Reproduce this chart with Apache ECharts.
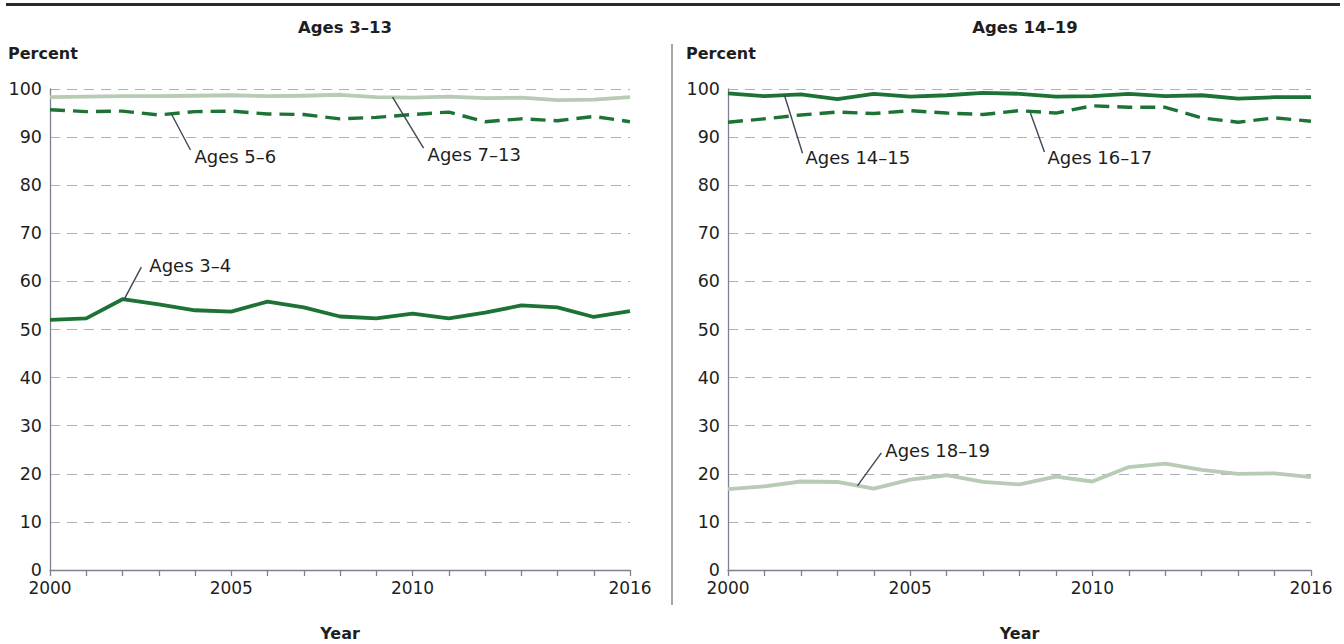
<!DOCTYPE html>
<html>
<head>
<meta charset="utf-8">
<script src="https://cdn.jsdelivr.net/npm/echarts@6/dist/echarts.min.js"></script>
<style>
html,body{margin:0;padding:0;background:#fff;}
#c{width:1344px;height:644px;}
</style>
</head>
<body>
<div id="c"></div>
<script>
// ---- data ----
const years = [2000,2001,2002,2003,2004,2005,2006,2007,2008,2009,2010,2011,2012,2013,2014,2015,2016];
const ages3to4   = [52.0,52.3,56.3,55.2,54.0,53.7,55.8,54.6,52.7,52.3,53.3,52.3,53.5,55.0,54.6,52.6,53.8];
const ages5to6   = [95.7,95.3,95.4,94.6,95.3,95.4,94.8,94.7,93.8,94.1,94.7,95.2,93.2,93.8,93.4,94.3,93.2];
const ages7to13  = [98.3,98.4,98.5,98.5,98.6,98.7,98.5,98.6,98.8,98.3,98.2,98.4,98.1,98.2,97.7,97.8,98.3];
const ages14to15 = [99.1,98.5,98.9,97.9,99.0,98.4,98.7,99.2,99.0,98.4,98.5,99.0,98.5,98.7,98.0,98.3,98.3];
const ages16to17 = [93.1,93.8,94.6,95.2,94.9,95.5,95.0,94.7,95.5,95.0,96.5,96.2,96.2,94.0,93.1,94.0,93.3];
const ages18to19 = [16.8,17.4,18.4,18.3,16.9,18.8,19.7,18.3,17.8,19.4,18.4,21.4,22.1,20.8,20.0,20.1,19.3];
const xTickLabels = [2000, 2005, 2010, 2016];
const yTicks = [0,10,20,30,40,50,60,70,80,90,100];
const panelTitles = ['Ages 3–13', 'Ages 14–19'];

const DARK = '#1d7236';
const LIGHT = '#b8cbb4';
const FONT = '"DejaVu Sans", "Liberation Sans", sans-serif';
const TXT = '#1e1e1e';

function pairs(vals){ return years.map((y,i)=>[y, vals[i]]); }

function xAxisCfg(gi){
  return {
    gridIndex: gi, type:'value', min: years[0], max: years[years.length-1], interval:1,
    name:'Year', nameLocation:'middle', nameGap:55,
    nameTextStyle:{fontFamily:FONT, fontWeight:'bold', fontSize:16, color:TXT},
    axisLine:{show:true, lineStyle:{color:'#7d8190', width:1.3}},
    axisTick:{show:true, length:6, lineStyle:{color:'#7d8190', width:1.3}},
    splitLine:{show:false},
    axisLabel:{fontFamily:FONT, fontSize:17, color:TXT, margin:10, lineHeight:16,
      showMinLabel:true, showMaxLabel:true, hideOverlap:false,
      formatter: v => xTickLabels.indexOf(v) >= 0 ? String(v) : ''}
  };
}
function yAxisCfg(gi){
  return {
    gridIndex: gi, type:'value', min: yTicks[0], max: yTicks[yTicks.length-1], interval:10,
    axisLine:{show:true, lineStyle:{color:'#7d8190', width:1.3}},
    axisTick:{show:false},
    splitLine:{show:true, lineStyle:{color:'#aeb0b8', width:1, type:[10,7]}},
    axisLabel:{fontFamily:FONT, fontSize:17.5, color:TXT, margin:8, lineHeight:14, padding:[0,0,6,0]}
  };
}
function lineSeries(gi, vals, color, dashed, z){
  return {
    type:'line', xAxisIndex:gi, yAxisIndex:gi, data:pairs(vals),
    symbol:'none', smooth:false, z: z,
    lineStyle:{color:color, width: dashed ? 3.4 : 3.8, type: dashed ? [15,8] : 'solid', cap:'butt', join:'round'}
  };
}

const chart = echarts.init(document.getElementById('c'), null, {renderer:'svg'});
chart.setOption({
  animation:false,
  backgroundColor:'#fff',
  title:[
    {text:panelTitles[0], left:340, top:14, textAlign:'center',
     textStyle:{fontFamily:FONT, fontWeight:'bold', fontSize:16.5, color:TXT}},
    {text:panelTitles[1], left:1020, top:14, textAlign:'center',
     textStyle:{fontFamily:FONT, fontWeight:'bold', fontSize:16.5, color:TXT}},
    {text:'Percent', left:3, top:40,
     textStyle:{fontFamily:FONT, fontWeight:'bold', fontSize:16, color:TXT}},
    {text:'Percent', left:681, top:40,
     textStyle:{fontFamily:FONT, fontWeight:'bold', fontSize:16, color:TXT}}
  ],
  grid:[
    {left:50, right:714, top:89, bottom:74, outerBoundsMode:'none', containLabel:false},
    {left:728, right:33, top:89, bottom:74, outerBoundsMode:'none', containLabel:false}
  ],
  xAxis:[xAxisCfg(0), xAxisCfg(1)],
  yAxis:[yAxisCfg(0), yAxisCfg(1)],
  series:[
    lineSeries(0, ages7to13, LIGHT, false, 3),
    lineSeries(0, ages5to6, DARK, true, 4),
    lineSeries(0, ages3to4, DARK, false, 4),
    lineSeries(1, ages14to15, DARK, false, 4),
    lineSeries(1, ages16to17, DARK, true, 4),
    lineSeries(1, ages18to19, LIGHT, false, 3)
  ]
});

// annotation labels with leader lines anchored on data coordinates
const notes = [
  {text:'Ages 3–4',   g:0, at:[2002.05, 56.3], dx:17, dy:-32, tx:8, ty:-2},
  {text:'Ages 5–6',   g:0, at:[2003.35, 94.8], dx:19, dy:36,  tx:4, ty:6},
  {text:'Ages 7–13',  g:0, at:[2009.45, 98.3], dx:31, dy:51,  tx:4, ty:6},
  {text:'Ages 14–15', g:1, at:[2001.55, 98.7], dx:18, dy:58,  tx:3, ty:4},
  {text:'Ages 16–17', g:1, at:[2008.3, 95.0],  dx:14, dy:39,  tx:3, ty:5},
  {text:'Ages 18–19', g:1, at:[2003.55, 17.5], dx:24, dy:-33, tx:4, ty:-2}
];
const els = [];
notes.forEach(n => {
  const p = chart.convertToPixel({gridIndex:n.g}, n.at);
  const ex = p[0] + n.dx, ey = p[1] + n.dy;
  els.push({type:'line', silent:true, z:10,
    shape:{x1:p[0], y1:p[1], x2:ex, y2:ey},
    style:{stroke:'#3f4656', lineWidth:1.4}});
  els.push({type:'text', silent:true, z:10,
    style:{text:n.text, x:ex + n.tx, y:ey + n.ty, fill:TXT,
      font:'18px ' + FONT, verticalAlign:'middle', align:'left'}});
});
// top rule and panel separator
els.push({type:'line', silent:true, shape:{x1:6, y1:4.5, x2:1340, y2:4.5},
  style:{stroke:'#2a2a2a', lineWidth:3}});
els.push({type:'line', silent:true, shape:{x1:672, y1:44, x2:672, y2:605},
  style:{stroke:'#8a8a8a', lineWidth:1.5}});
chart.setOption({graphic:{elements:els}});
</script>
</body>
</html>
